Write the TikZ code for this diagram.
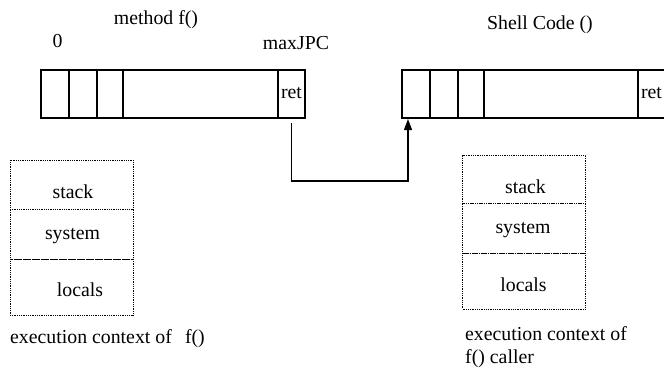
\documentclass[tikz,border=0pt]{standalone}
\usepackage{fontspec}
\setmainfont{Liberation Serif}
\usetikzlibrary{arrows.meta}
\begin{document}
\begin{tikzpicture}[x=1pt,y=-1pt,
  cell/.style={draw,line width=1.2pt,minimum height=48pt,inner sep=0pt,outer sep=0pt},
  ctx/.style={draw,dash pattern=on 0.9pt off 0.9pt,line width=0.9pt,minimum width=123pt,inner sep=0pt,outer sep=0pt},
  txt/.style={font=\fontsize{19.8}{23}\selectfont,inner sep=0pt,anchor=base},
  txtl/.style={font=\fontsize{19.8}{23}\selectfont,inner sep=0pt,anchor=base west},
  link/.style={line width=1.2pt,-{Triangle[width=8pt,length=11pt]}}]
\useasboundingbox (0,0) rectangle (664,369);
% left array
\node[cell,minimum width=28pt] (l1) at (55,94) {};
\node[cell,minimum width=28pt] (l2) at (83,94) {};
\node[cell,minimum width=26pt] (l3) at (110,94) {};
\node[cell,minimum width=155pt] (l4) at (200.5,94) {};
\node[cell,minimum width=27pt] (lret) at (291.5,94) {};
\node[txt] (lrett) at (291.5,98) {ret};
% right array
\node[cell,minimum width=28pt] (r1) at (416,94) {};
\node[cell,minimum width=28pt] (r2) at (444,94) {};
\node[cell,minimum width=26pt] (r3) at (471,94) {};
\node[cell,minimum width=154pt] (r4) at (561,94) {};
\node[cell,minimum width=27pt] (rret) at (651.5,94) {};
\node[txt] (rrett) at (651.5,98) {ret};
% top labels
\node[txt] (zero) at (57.5,48) {0};
\node[txt] (meth) at (156,25) {method f()};
\node[txt] (maxj) at (296,49) {maxJPC};
\node[txt] (shell) at (540,30) {Shell Code ()};
% connector
\coordinate (mid) at (350,181);
\draw[link] ([yshift=-5pt]lret.south) |- (mid) -| ([xshift=-8pt,yshift=-1pt]r1.south);
% left context
\node[ctx,minimum height=49pt] (lst) at (71.5,184.5) {};
\node[ctx,minimum height=50pt] (lsy) at (71.5,234) {};
\node[ctx,minimum height=56pt] (llo) at (71.5,287) {};
\node[txt] (lstt) at (73,198) {stack};
\node[txt] (lsyt) at (72.5,239.5) {system};
\node[txt] (llot) at (80,296) {locals};
\node[txtl] (lcap) at (10,343) {execution context of\ \ \,f()};
% right context
\node[ctx,minimum height=48pt] (rst) at (524,179) {};
\node[ctx,minimum height=50pt] (rsy) at (524,228) {};
\node[ctx,minimum height=56pt] (rlo) at (524,281) {};
\node[txt] (rstt) at (525.5,193) {stack};
\node[txt] (rsyt) at (523,233.5) {system};
\node[txt] (rlot) at (523.5,291) {locals};
\node[txtl] (rcap1) at (465,340) {execution context of};
\node[txtl] (rcap2) at (465,363) {f() caller};
\end{tikzpicture}
\end{document}
